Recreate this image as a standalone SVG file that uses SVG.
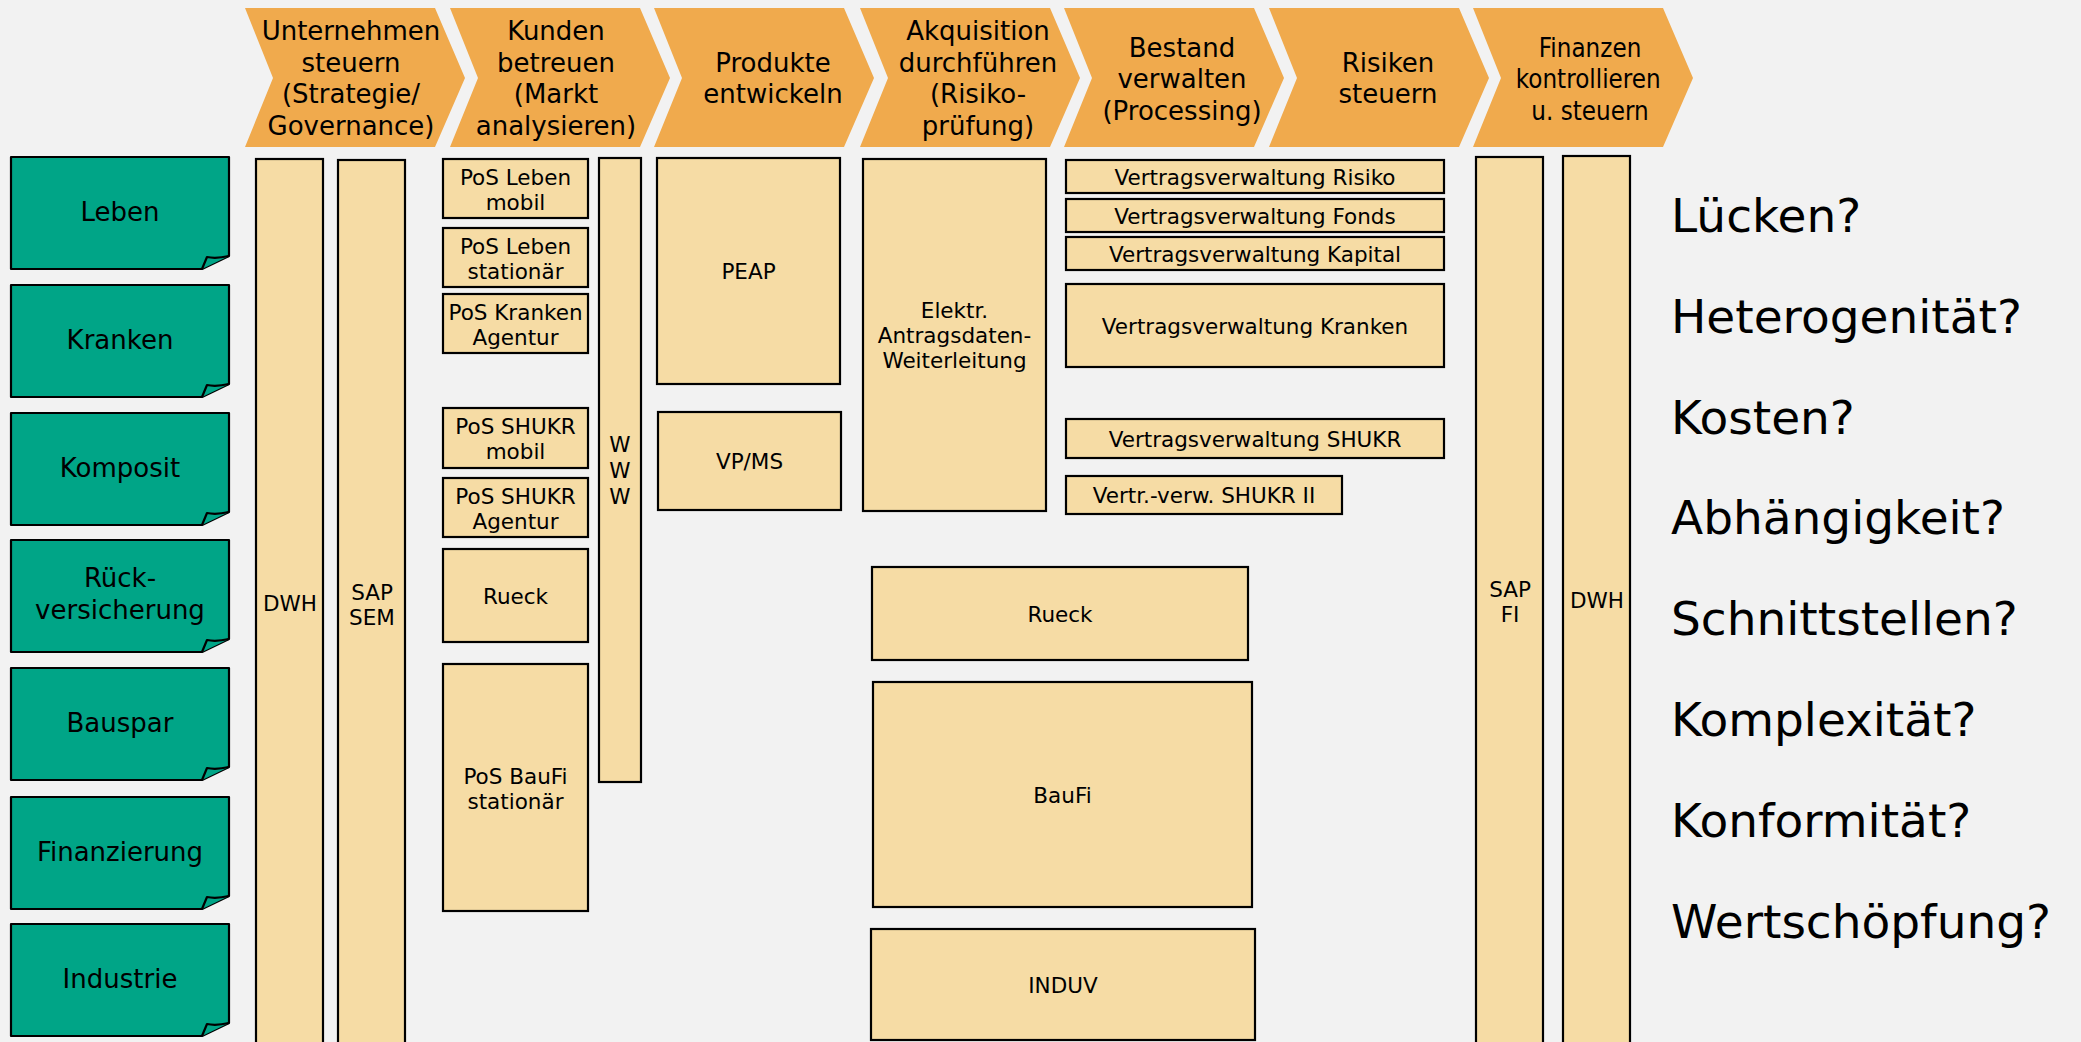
<svg xmlns="http://www.w3.org/2000/svg" width="2081" height="1042" viewBox="0 0 2081 1042">
  <style>
    text { font-family: "DejaVu Sans", Verdana, sans-serif; fill: #000; text-anchor: middle; }
    .phase { fill: #F0AA4D; }
    .ph { font-size: 26px; }
    .seg { fill: #00A587; stroke: #000; stroke-width: 2.2; stroke-linejoin: round; }
    .seg-t { font-size: 26px; }
    .app { fill: #F6DCA5; stroke: #000; stroke-width: 2.2; }
    .app-t { font-size: 21.5px; }
    .q { font-size: 47px; text-anchor: start; }
  </style>

  <rect width="2081" height="1042" fill="#F2F2F2"/>

  <!-- value chain: process chevrons -->
  <g id="phase-steuern">
    <polygon class="phase" points="245,8 435,8 465,78 435,147 245,147 273,78"/>
    <text class="ph"><tspan x="351" y="40">Unternehmen</tspan><tspan x="351" y="72">steuern</tspan><tspan x="351" y="103">(Strategie/</tspan><tspan x="351" y="135">Governance)</tspan></text>
  </g>
  <g id="phase-kunden">
    <polygon class="phase" points="450,8 640,8 670,78 640,147 450,147 478,78"/>
    <text class="ph"><tspan x="556" y="40">Kunden</tspan><tspan x="556" y="72">betreuen</tspan><tspan x="556" y="103">(Markt</tspan><tspan x="556" y="135">analysieren)</tspan></text>
  </g>
  <g id="phase-produkte">
    <polygon class="phase" points="654,8 844,8 874,78 844,147 654,147 682,78"/>
    <text class="ph"><tspan x="773" y="72">Produkte</tspan><tspan x="773" y="103">entwickeln</tspan></text>
  </g>
  <g id="phase-akquisition">
    <polygon class="phase" points="860,8 1050,8 1080,78 1050,147 860,147 888,78"/>
    <text class="ph"><tspan x="978" y="40">Akquisition</tspan><tspan x="978" y="72">durchführen</tspan><tspan x="978" y="103">(Risiko-</tspan><tspan x="978" y="135">prüfung)</tspan></text>
  </g>
  <g id="phase-bestand">
    <polygon class="phase" points="1064,8 1254,8 1284,78 1254,147 1064,147 1092,78"/>
    <text class="ph"><tspan x="1182" y="57">Bestand</tspan><tspan x="1182" y="88">verwalten</tspan><tspan x="1182" y="120">(Processing)</tspan></text>
  </g>
  <g id="phase-risiken">
    <polygon class="phase" points="1269,8 1459,8 1489,78 1459,147 1269,147 1297,78"/>
    <text class="ph"><tspan x="1388" y="72">Risiken</tspan><tspan x="1388" y="103">steuern</tspan></text>
  </g>
  <g id="phase-finanzen">
    <polygon class="phase" points="1473,8 1663,8 1693,78 1663,147 1473,147 1501,78"/>
    <!-- narrower setting so the three lines fit the last chevron -->
    <g transform="translate(1590,0) scale(0.89,1)">
      <text class="ph" font-size="25"><tspan x="0" y="57">Finanzen</tspan><tspan x="-2" y="88">kontrollieren</tspan><tspan x="0" y="120">u. steuern</tspan></text>
    </g>
  </g>

  <!-- business segments: note shapes with folded corner -->
  <defs>
    <g id="note">
      <path class="seg" d="M0,0 H218 V99 L191,112 H0 Z"/>
      <path class="seg" d="M191,112 L196,100 Q205,102 218,99"/>
    </g>
  </defs>
  <g id="seg-leben"><use href="#note" x="11" y="157"/><text class="seg-t" x="120" y="221">Leben</text></g>
  <g id="seg-kranken"><use href="#note" x="11" y="285"/><text class="seg-t" x="120" y="349">Kranken</text></g>
  <g id="seg-komposit"><use href="#note" x="11" y="413"/><text class="seg-t" x="120" y="477">Komposit</text></g>
  <g id="seg-rueck"><use href="#note" x="11" y="540"/><text class="seg-t"><tspan x="120" y="587">Rück-</tspan><tspan x="120" y="618.5">versicherung</tspan></text></g>
  <g id="seg-bauspar"><use href="#note" x="11" y="668"/><text class="seg-t" x="120" y="732">Bauspar</text></g>
  <g id="seg-finanzierung"><use href="#note" x="11" y="797"/><text class="seg-t" x="120" y="861">Finanzierung</text></g>
  <g id="seg-industrie"><use href="#note" x="11" y="924"/><text class="seg-t" x="120" y="988">Industrie</text></g>

  <!-- cross-cutting columns -->
  <g id="dwh-left"><rect class="app" x="256" y="159" width="67" height="900"/><text class="app-t" x="290" y="611">DWH</text></g>
  <g id="sap-sem"><rect class="app" x="338" y="160" width="67" height="900"/><text class="app-t"><tspan x="372" y="600">SAP</tspan><tspan x="372" y="625">SEM</tspan></text></g>
  <g id="www"><rect class="app" x="599" y="158" width="42" height="624"/><text class="app-t"><tspan x="620" y="452">W</tspan><tspan x="620" y="478">W</tspan><tspan x="620" y="504">W</tspan></text></g>
  <g id="sap-fi"><rect class="app" x="1476" y="157" width="67" height="900"/><text class="app-t"><tspan x="1510" y="597">SAP</tspan><tspan x="1510" y="622">FI</tspan></text></g>
  <g id="dwh-right"><rect class="app" x="1563" y="156" width="67" height="900"/><text class="app-t" x="1597" y="608">DWH</text></g>

  <!-- point-of-sale systems -->
  <g id="pos-leben-mobil"><rect class="app" x="443" y="159" width="145" height="59"/><text class="app-t"><tspan x="515.5" y="184.5">PoS Leben</tspan><tspan x="515.5" y="209.5">mobil</tspan></text></g>
  <g id="pos-leben-stationaer"><rect class="app" x="443" y="228" width="145" height="59"/><text class="app-t"><tspan x="515.5" y="253.5">PoS Leben</tspan><tspan x="515.5" y="278.5">stationär</tspan></text></g>
  <g id="pos-kranken-agentur"><rect class="app" x="443" y="294" width="145" height="59"/><text class="app-t"><tspan x="515.5" y="319.5">PoS Kranken</tspan><tspan x="515.5" y="344.5">Agentur</tspan></text></g>
  <g id="pos-shukr-mobil"><rect class="app" x="443" y="408" width="145" height="60"/><text class="app-t"><tspan x="515.5" y="434">PoS SHUKR</tspan><tspan x="515.5" y="459">mobil</tspan></text></g>
  <g id="pos-shukr-agentur"><rect class="app" x="443" y="478" width="145" height="59"/><text class="app-t"><tspan x="515.5" y="503.5">PoS SHUKR</tspan><tspan x="515.5" y="528.5">Agentur</tspan></text></g>
  <g id="pos-rueck"><rect class="app" x="443" y="549" width="145" height="93"/><text class="app-t" x="515.5" y="603.5">Rueck</text></g>
  <g id="pos-baufi"><rect class="app" x="443" y="664" width="145" height="247"/><text class="app-t"><tspan x="515.5" y="783.5">PoS BauFi</tspan><tspan x="515.5" y="808.5">stationär</tspan></text></g>

  <!-- product and acquisition systems -->
  <g id="peap"><rect class="app" x="657" y="158" width="183" height="226"/><text class="app-t" x="748.5" y="279">PEAP</text></g>
  <g id="vpms"><rect class="app" x="658" y="412" width="183" height="98"/><text class="app-t" x="749.5" y="469">VP/MS</text></g>
  <g id="elektr"><rect class="app" x="863" y="159" width="183" height="352"/><text class="app-t"><tspan x="954.5" y="318">Elektr.</tspan><tspan x="954.5" y="343">Antragsdaten-</tspan><tspan x="954.5" y="368">Weiterleitung</tspan></text></g>

  <!-- policy administration systems -->
  <g id="vv-risiko"><rect class="app" x="1066" y="160" width="378" height="33"/><text class="app-t" x="1255" y="184.5">Vertragsverwaltung Risiko</text></g>
  <g id="vv-fonds"><rect class="app" x="1066" y="199" width="378" height="33"/><text class="app-t" x="1255" y="223.5">Vertragsverwaltung Fonds</text></g>
  <g id="vv-kapital"><rect class="app" x="1066" y="237" width="378" height="33"/><text class="app-t" x="1255" y="261.5">Vertragsverwaltung Kapital</text></g>
  <g id="vv-kranken"><rect class="app" x="1066" y="284" width="378" height="83"/><text class="app-t" x="1255" y="333.5">Vertragsverwaltung Kranken</text></g>
  <g id="vv-shukr"><rect class="app" x="1066" y="419" width="378" height="39"/><text class="app-t" x="1255" y="446.5">Vertragsverwaltung SHUKR</text></g>
  <g id="vv-shukr2"><rect class="app" x="1066" y="476" width="276" height="38"/><text class="app-t" x="1204" y="503">Vertr.-verw. SHUKR II</text></g>

  <!-- line-of-business systems -->
  <g id="rueck"><rect class="app" x="872" y="567" width="376" height="93"/><text class="app-t" x="1060" y="621.5">Rueck</text></g>
  <g id="baufi"><rect class="app" x="873" y="682" width="379" height="225"/><text class="app-t" x="1062.5" y="802.5">BauFi</text></g>
  <g id="induv"><rect class="app" x="871" y="929" width="384" height="111"/><text class="app-t" x="1063" y="992.5">INDUV</text></g>

  <g id="connectors"/>

  <!-- open questions -->
  <g id="questions">
    <text class="q" x="1671" y="232">Lücken?</text>
    <text class="q" x="1671" y="333">Heterogenität?</text>
    <text class="q" x="1671" y="434">Kosten?</text>
    <text class="q" x="1671" y="534">Abhängigkeit?</text>
    <text class="q" x="1671" y="635">Schnittstellen?</text>
    <text class="q" x="1671" y="736">Komplexität?</text>
    <text class="q" x="1671" y="837">Konformität?</text>
    <text class="q" x="1671" y="938">Wertschöpfung?</text>
  </g>
</svg>
